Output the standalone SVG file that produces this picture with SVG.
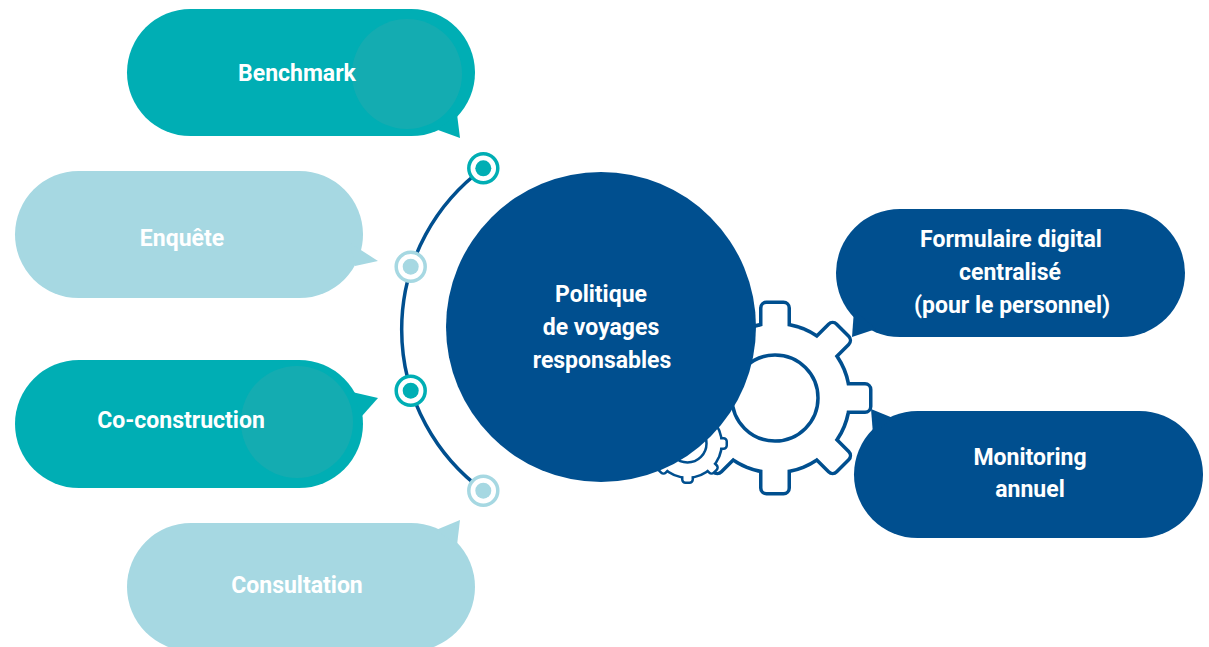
<svg xmlns="http://www.w3.org/2000/svg" width="1209" height="647" viewBox="0 0 1209 647">
<style>
  .lbl{font-family:Roboto,"Liberation Sans",sans-serif;font-weight:700;font-size:23px;fill:#ffffff;text-anchor:middle}
  .teal{fill:#00AEB4}
  .light{fill:#A6D8E2}
  .navy{fill:#004F8F}
  .tint{fill:#14ACB1}
  .ringT{fill:#ffffff;stroke:#00AEB4;stroke-width:3.5}
  .ringL{fill:#ffffff;stroke:#A6D8E2;stroke-width:3.5}
</style>
<defs>
  <g id="bigGearShape">
    <circle cx="0" cy="0" r="73"/>
    <rect x="-12.5" y="-94" width="25" height="30" rx="4"/>
    <rect x="-12.5" y="-94" width="25" height="30" rx="4" transform="rotate(45)"/>
    <rect x="-12.5" y="-94" width="25" height="30" rx="4" transform="rotate(90)"/>
    <rect x="-12.5" y="-94" width="25" height="30" rx="4" transform="rotate(135)"/>
    <rect x="-12.5" y="-94" width="25" height="30" rx="4" transform="rotate(180)"/>
    <rect x="-12.5" y="-94" width="25" height="30" rx="4" transform="rotate(225)"/>
    <rect x="-12.5" y="-94" width="25" height="30" rx="4" transform="rotate(270)"/>
    <rect x="-12.5" y="-94" width="25" height="30" rx="4" transform="rotate(315)"/>
  </g>
  <g id="smallGearShape">
    <circle cx="0" cy="0" r="33"/>
    <rect x="-4" y="-38" width="8" height="10" rx="2"/>
    <rect x="-4" y="-38" width="8" height="10" rx="2" transform="rotate(45)"/>
    <rect x="-4" y="-38" width="8" height="10" rx="2" transform="rotate(90)"/>
    <rect x="-4" y="-38" width="8" height="10" rx="2" transform="rotate(135)"/>
    <rect x="-4" y="-38" width="8" height="10" rx="2" transform="rotate(180)"/>
    <rect x="-4" y="-38" width="8" height="10" rx="2" transform="rotate(225)"/>
    <rect x="-4" y="-38" width="8" height="10" rx="2" transform="rotate(270)"/>
    <rect x="-4" y="-38" width="8" height="10" rx="2" transform="rotate(315)"/>
  </g>
</defs>

<g id="gear-big">
  <use href="#bigGearShape" transform="translate(775,398)" fill="#004F8F" stroke="#004F8F" stroke-width="7" stroke-linejoin="round"/>
  <use href="#bigGearShape" transform="translate(775,398)" fill="#ffffff"/>
  <circle cx="775" cy="398" r="43" fill="none" stroke="#004F8F" stroke-width="3.5"/>
</g>
<g id="gear-small">
  <use href="#smallGearShape" transform="translate(687.5,443.5)" fill="#004F8F" stroke="#004F8F" stroke-width="5" stroke-linejoin="round"/>
  <use href="#smallGearShape" transform="translate(687.5,443.5)" fill="#ffffff"/>
  <circle cx="687.5" cy="443.5" r="19" fill="none" stroke="#004F8F" stroke-width="2.5"/>
</g>

<g id="center">
  <circle cx="601" cy="327" r="155" class="navy"/>
  <text class="lbl" x="601" y="302">Politique</text>
  <text class="lbl" x="601" y="335">de voyages</text>
  <text class="lbl" x="602" y="368">responsables</text>
</g>

<g id="connectors">
  <path d="M483.3,168.3 A200,200 0 0 0 483.3,490.7" fill="none" stroke="#004F8F" stroke-width="3.5"/>
</g>

<g id="dot1"><circle cx="483.3" cy="168.3" r="14.5" class="ringT"/><circle cx="483.3" cy="168.3" r="8" class="teal"/></g>
<g id="dot2"><circle cx="410.7" cy="266.7" r="14.5" class="ringL"/><circle cx="410.7" cy="266.7" r="8" class="light"/></g>
<g id="dot3"><circle cx="410.7" cy="390.7" r="14.5" class="ringT"/><circle cx="410.7" cy="390.7" r="8" class="teal"/></g>
<g id="dot4"><circle cx="483.3" cy="490.7" r="14.5" class="ringL"/><circle cx="483.3" cy="490.7" r="8" class="light"/></g>

<g id="benchmark">
  <rect x="127" y="9" width="348" height="127" rx="63.5" class="teal"/>
  <polygon points="438,130 460,138 457,114" class="teal"/>
  <circle cx="407" cy="74" r="55" class="tint"/>
  <text class="lbl" x="297" y="81">Benchmark</text>
</g>
<g id="enquete">
  <rect x="15" y="171" width="348" height="127" rx="63.5" class="light"/>
  <polygon points="350,243 378,261 355,266" class="light"/>
  <text class="lbl" x="182" y="246">Enquête</text>
</g>
<g id="coconstruction">
  <rect x="15" y="360" width="348" height="128" rx="64" class="teal"/>
  <polygon points="352,392 378,398 362,416" class="teal"/>
  <circle cx="297" cy="422" r="56" class="tint"/>
  <text class="lbl" x="181" y="428">Co-construction</text>
</g>
<g id="consultation">
  <rect x="127" y="523" width="348" height="128" rx="64" class="light"/>
  <polygon points="436,530 460,520 457,545" class="light"/>
  <text class="lbl" x="297" y="593">Consultation</text>
</g>
<g id="formulaire">
  <rect x="836" y="209" width="349" height="128" rx="64" class="navy"/>
  <polygon points="854,310 852,337 876,329" class="navy"/>
  <text class="lbl" x="1011" y="247">Formulaire digital</text>
  <text class="lbl" x="1010" y="280">centralisé</text>
  <text class="lbl" x="1012" y="313">(pour le personnel)</text>
</g>
<g id="monitoring">
  <rect x="854" y="411" width="349" height="127" rx="63.5" class="navy"/>
  <polygon points="873,434 871,409 893,418" class="navy"/>
  <text class="lbl" x="1030" y="465">Monitoring</text>
  <text class="lbl" x="1030" y="497">annuel</text>
</g>
</svg>
